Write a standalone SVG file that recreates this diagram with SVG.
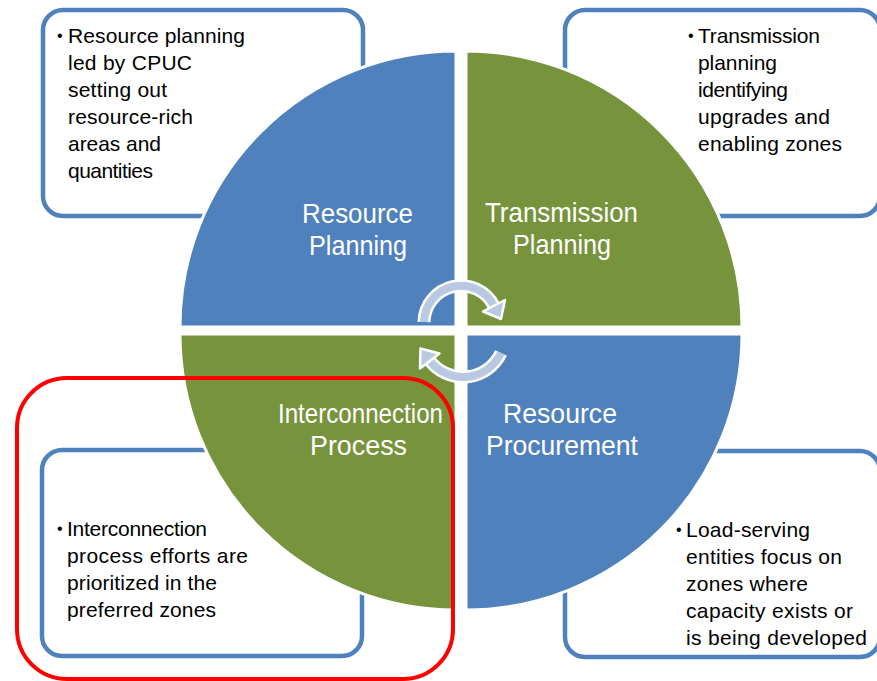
<svg xmlns="http://www.w3.org/2000/svg" width="877" height="681" viewBox="0 0 877 681">
<style>
.box{fill:#fff;stroke:#4F81BD;stroke-width:4.5}
.blue{fill:#4F81BD;stroke:#fff;stroke-width:3}
.green{fill:#77933C;stroke:#fff;stroke-width:3}
.lbl{font-family:"Liberation Sans",Arial,sans-serif;font-size:28.5px;fill:#fff}
.txt{font-family:"Liberation Sans",Arial,sans-serif;font-size:21px;fill:#000}
.bul{font-family:"Liberation Sans",Arial,sans-serif;font-size:16px;fill:#000}
.arcw{fill:none;stroke:#fff;stroke-width:13}
.arcb{fill:none;stroke:#B9C9E2;stroke-width:8}
.headw{fill:#B9C9E2;stroke:#fff;stroke-width:2.5;stroke-linejoin:round}
</style>
<rect width="877" height="681" fill="#fff"/>
<g id="box-tl">
<rect class="box" x="43" y="10" width="320" height="206" rx="20"/>
<text class="bul" x="57" y="41">•</text>
<text class="txt" x="68" y="43" textLength="177">Resource planning</text>
<text class="txt" x="68" y="70" textLength="124">led by CPUC</text>
<text class="txt" x="68" y="97" textLength="99">setting  out</text>
<text class="txt" x="68" y="124" textLength="125">resource-rich</text>
<text class="txt" x="68" y="151" textLength="93">areas and</text>
<text class="txt" x="68" y="178" textLength="85">quantities</text>
</g>
<g id="box-tr">
<rect class="box" x="565" y="10" width="315" height="206" rx="20"/>
<text class="bul" x="688" y="41">•</text>
<text class="txt" x="698" y="43" textLength="122">Transmission</text>
<text class="txt" x="698" y="70" textLength="79">planning</text>
<text class="txt" x="698" y="97" textLength="90">identifying</text>
<text class="txt" x="698" y="124" textLength="132">upgrades and</text>
<text class="txt" x="698" y="151" textLength="144">enabling zones</text>
</g>
<g id="box-bl">
<rect class="box" x="42" y="450" width="320" height="206" rx="20"/>
<text class="bul" x="57" y="534">•</text>
<text class="txt" x="67" y="536" textLength="140">Interconnection</text>
<text class="txt" x="67" y="563" textLength="181">process efforts  are</text>
<text class="txt" x="67" y="590" textLength="150">prioritized  in the</text>
<text class="txt" x="67" y="617" textLength="149">preferred zones</text>
</g>
<g id="box-br">
<rect class="box" x="565" y="451" width="315" height="206" rx="20"/>
<text class="bul" x="676" y="535">•</text>
<text class="txt" x="686" y="537" textLength="124">Load-serving</text>
<text class="txt" x="686" y="564" textLength="156">entities  focus on</text>
<text class="txt" x="686" y="591" textLength="122">zones where</text>
<text class="txt" x="686" y="618" textLength="167">capacity  exists or</text>
<text class="txt" x="686" y="645" textLength="181">is being developed</text>
</g>
<g id="q-resource-planning">
<path class="blue" d="M456 327 L180 327 A276 276 0 0 1 456 51 Z"/>
<text class="lbl" x="302" y="223" textLength="111" lengthAdjust="spacingAndGlyphs">Resource</text>
<text class="lbl" x="309" y="255" textLength="98" lengthAdjust="spacingAndGlyphs">Planning</text>
</g>
<g id="q-transmission-planning">
<path class="green" d="M466 327 L466 51 A276 276 0 0 1 742 327 Z"/>
<text class="lbl" x="485" y="222" textLength="153" lengthAdjust="spacingAndGlyphs">Transmission</text>
<text class="lbl" x="513" y="254" textLength="98" lengthAdjust="spacingAndGlyphs">Planning</text>
</g>
<g id="q-resource-procurement">
<path class="blue" d="M466 334 L742 334 A276 276 0 0 1 466 610 Z"/>
<text class="lbl" x="503" y="423" textLength="114" lengthAdjust="spacingAndGlyphs">Resource</text>
<text class="lbl" x="486" y="455" textLength="152" lengthAdjust="spacingAndGlyphs">Procurement</text>
</g>
<g id="q-interconnection-process">
<path class="green" d="M456 334 L456 610 A276 276 0 0 1 180 334 Z"/>
<text class="lbl" x="278" y="423" textLength="165" lengthAdjust="spacingAndGlyphs">Interconnection</text>
<text class="lbl" x="310" y="455" textLength="97" lengthAdjust="spacingAndGlyphs">Process</text>
</g>
<g id="connectors">
<path class="arcw" d="M424 322 A37 37 0 0 1 494 306"/>
<path class="arcw" d="M501 353 A42 42 0 0 1 430 361"/>
<path class="arcb" d="M424 322 A37 37 0 0 1 494 306"/>
<path class="arcb" d="M501 353 A42 42 0 0 1 430 361"/>
<polygon class="headw" points="505,300 483,311.5 501,319"/>
<polygon class="headw" points="420,368.5 439.5,353.5 420.5,348.5"/>
</g>
<rect id="highlight" x="17" y="378" width="436" height="301" rx="50" fill="none" stroke="#FF0000" stroke-width="4"/>
</svg>
